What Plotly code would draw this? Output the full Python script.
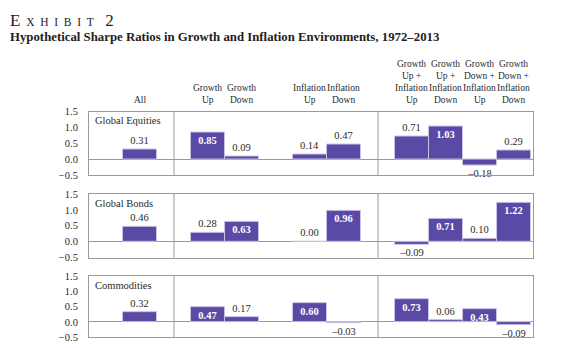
import plotly.graph_objects as go

# ---------------- data ----------------
columns = ["All", "Growth Up", "Growth Down", "Inflation Up", "Inflation Down",
           "Growth Up + Inflation Up", "Growth Up + Inflation Down",
           "Growth Down + Inflation Up", "Growth Down + Inflation Down"]
header_lines = [
    ["All"],
    ["Growth", "Up"], ["Growth", "Down"],
    ["Inflation", "Up"], ["Inflation", "Down"],
    ["Growth", "Up +", "Inflation", "Up"],
    ["Growth", "Up +", "Inflation", "Down"],
    ["Growth", "Down +", "Inflation", "Up"],
    ["Growth", "Down +", "Inflation", "Down"],
]
assets = ["Global Equities", "Global Bonds", "Commodities"]
equities = [0.31, 0.85, 0.09, 0.14, 0.47, 0.71, 1.03, -0.18, 0.29]
bonds = [0.46, 0.28, 0.63, 0.00, 0.96, -0.09, 0.71, 0.10, 1.22]
commodities = [0.32, 0.47, 0.17, 0.60, -0.03, 0.73, 0.06, 0.43, -0.09]
equities_bold = [False, True, False, False, False, False, True, False, False]
bonds_bold = [False, False, True, False, True, False, True, False, True]
commodities_bold = [False, True, False, True, False, True, False, True, False]
y_ticks = [-0.5, 0.0, 0.5, 1.0, 1.5]
y_ticktext = ["\u22120.5", "0.0", "0.5", "1.0", "1.5"]

# ---------------- layout helpers ----------------
W, H = 563, 348
FONT = "Liberation Serif"
BAR = "#5a4aa5"
GRID = "#9a9a9a"
TXT = "#2a2a2a"

slot_left = [1, 3, 4, 6, 7, 9, 10, 11, 12]   # column slot positions
xpos = [s + 0.5 for s in slot_left]
dividers = [2.5, 8.5]
XR = [0, 13.06]
xdom = [89 / W, 533 / W]
panel_px = [(110, 176), (195, 261), (280, 343)]

series = [equities, bonds, commodities]
bolds = [equities_bold, bonds_bold, commodities_bold]

fig = go.Figure()
layout = dict(
    width=W, height=H, margin=dict(l=0, r=0, t=0, b=0),
    paper_bgcolor="white", plot_bgcolor="white", showlegend=False,
    font=dict(family=FONT, size=11, color=TXT),
    shapes=[], annotations=[], bargap=0,
)

def fmt(v):
    s = f"{v:.2f}"
    return s.replace("-", "\u2013")

for i, (vals, bl, name) in enumerate(zip(series, bolds, assets)):
    k = "" if i == 0 else str(i + 1)
    xa, ya = "x" + k, "y" + k
    texts = [f"<b>{fmt(v)}</b>" if b else fmt(v) for v, b in zip(vals, bl)]
    pos = ["inside" if b else "outside" for b in bl]
    colors = ["white" if b else TXT for b in bl]
    fig.add_trace(go.Bar(
        x=xpos, y=vals, width=0.98, xaxis=xa, yaxis=ya,
        marker=dict(color=BAR, line=dict(color="#c9c2e6", width=1)),
        text=texts, textposition=pos, insidetextanchor="end",
        textfont=dict(family=FONT, size=10.5, color=colors),
        constraintext="none", cliponaxis=False, hoverinfo="skip",
    ))
    top, bot = panel_px[i]
    layout["xaxis" + k] = dict(
        domain=xdom, range=XR, anchor=ya, showticklabels=False,
        showgrid=False, zeroline=False, showline=True, mirror=True,
        linecolor=GRID, linewidth=1, ticks="",
    )
    layout["yaxis" + k] = dict(
        domain=[1 - bot / H, 1 - top / H], range=[-0.5, 1.5], anchor=xa,
        tickvals=y_ticks, ticktext=y_ticktext, showgrid=False,
        zeroline=True, zerolinecolor=GRID, zerolinewidth=1,
        showline=True, mirror=True, linecolor=GRID, linewidth=1,
        ticks="outside", ticklen=8, tickcolor="rgba(0,0,0,0)",
        tickfont=dict(family=FONT, size=10.5, color=TXT),
    )
    for d in dividers:
        layout["shapes"].append(dict(
            type="line", xref=xa, yref=ya + " domain", x0=d, x1=d, y0=0, y1=1,
            line=dict(color=GRID, width=1)))
    layout["annotations"].append(dict(
        text=name, xref=xa + " domain", yref=ya + " domain", x=0.008, y=0.97,
        xanchor="left", yanchor="top", showarrow=False,
        font=dict(family=FONT, size=10.5, color=TXT)))

# column headers
for xp, lines in zip(xpos, header_lines):
    n = len(lines)
    for j, line in enumerate(lines):
        k_from_bottom = n - 1 - j
        py = 98 - 12.5 * k_from_bottom
        layout["annotations"].append(dict(
            text=line, xref="x", yref="paper", x=xp, y=1 - py / H,
            xanchor="center", yanchor="middle", showarrow=False,
            font=dict(family=FONT, size=9.5, color=TXT)))

# title (small caps emulation)
sp = "\u2002"
title_txt = ("<span style='font-size:17px'>E</span>" + sp
             + sp.join("XHIBIT") + sp + sp + "<span style='font-size:17px'>2</span>")
layout["annotations"].append(dict(
    text=title_txt,
    xref="paper", yref="paper", x=8 / W, y=1 - 16 / H, xanchor="left",
    yanchor="middle", showarrow=False, font=dict(family=FONT, size=11.5, color="#222")))
layout["annotations"].append(dict(
    text="<b>Hypothetical Sharpe Ratios in Growth and Inflation Environments, 1972\u20132013</b>",
    xref="paper", yref="paper", x=8 / W, y=1 - 33 / H, xanchor="left",
    yanchor="middle", showarrow=False, font=dict(family=FONT, size=12.8, color="#222")))

fig.update_layout(**layout)
fig.write_html("out.html")
